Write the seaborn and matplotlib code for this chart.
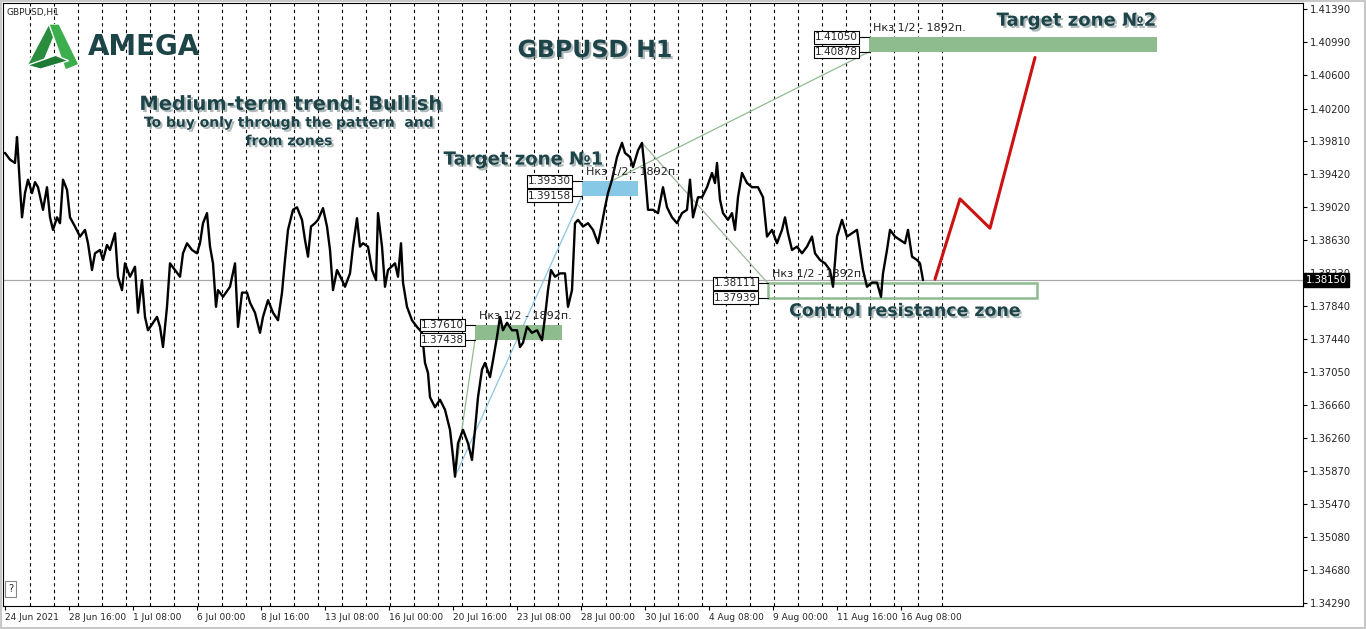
import numpy as np
import pandas as pd
import seaborn as sns
import matplotlib
matplotlib.use("Agg")
import matplotlib.pyplot as plt
import matplotlib.patheffects as pe
from matplotlib.patches import Polygon, Rectangle
from matplotlib.transforms import blended_transform_factory

# H1 bar number (0 = 24 Jun 2021 00:00) and price
bars = [0, 5, 10, 12, 13, 15, 17, 20, 23, 27, 30, 33, 38, 42, 45, 48, 52, 55, 58, 62, 65,
        70, 75, 80, 83, 87, 90, 95, 98, 102, 105, 110, 113, 117, 120, 125, 130, 133, 137,
        140, 143, 148, 152, 155, 158, 162, 165, 170, 175, 178, 182, 187, 192, 195, 198,
        202, 205, 208, 211, 213, 218, 225, 230, 233, 237, 242, 245, 250, 255, 258, 263,
        268, 273, 277, 280, 283, 288, 292, 297, 300, 303, 306, 310, 313, 318, 322, 325,
        328, 332, 337, 340, 345, 348, 352, 355, 358, 363, 367, 371, 373, 377, 380, 383,
        390, 393, 396, 398, 402, 407, 412, 415, 417, 420, 423, 425, 430, 435, 440, 445,
        448, 450, 453, 458, 463, 467, 470, 473, 477, 480, 485, 488, 492, 495, 498, 502,
        507, 512, 515, 518, 522, 527, 532, 537, 540, 543, 546, 550, 555, 560, 563, 567,
        570, 573, 578, 583, 588, 593, 597, 600, 603, 607, 612, 617, 620, 625, 628, 633,
        637, 640, 643, 648, 653, 658, 662, 667, 672, 677, 682, 685, 688, 693, 697, 702,
        707, 710, 712, 715, 718, 723, 727, 730, 733, 737, 742, 747, 753, 758, 762, 767,
        772, 777, 780, 783, 787, 792, 797, 802, 807, 810, 815, 820, 825, 828, 832, 837,
        842, 847, 852, 855, 858, 862, 867, 872, 876, 878, 882, 885, 890, 895, 900, 903,
        907, 912, 915, 918]
close = [1.3967, 1.3959, 1.3955, 1.3986, 1.3967, 1.3926, 1.3890, 1.3919, 1.3935, 1.3919,
         1.3932, 1.3926, 1.3899, 1.3926, 1.3890, 1.3875, 1.3890, 1.3883, 1.3935, 1.3923,
         1.3890, 1.3879, 1.3867, 1.3875, 1.3859, 1.3827, 1.3847, 1.3851, 1.3839, 1.3857,
         1.3851, 1.3871, 1.3819, 1.3803, 1.3835, 1.3819, 1.3831, 1.3776, 1.3815, 1.3771,
         1.3755, 1.3764, 1.3771, 1.3759, 1.3735, 1.3783, 1.3835, 1.3827, 1.3819, 1.3847,
         1.3859, 1.3851, 1.3847, 1.3859, 1.3883, 1.3895, 1.3855, 1.3835, 1.3783, 1.3803,
         1.3795, 1.3807, 1.3835, 1.3759, 1.3800, 1.3800, 1.3788, 1.3776, 1.3752, 1.3771,
         1.3791, 1.3776, 1.3767, 1.3800, 1.3839, 1.3875, 1.3899, 1.3902, 1.3887, 1.3863,
         1.3843, 1.3879, 1.3883, 1.3887, 1.3901, 1.3879, 1.3851, 1.3803, 1.3827, 1.3815,
         1.3807, 1.3823, 1.3855, 1.3889, 1.3855, 1.3859, 1.3855, 1.3827, 1.3815, 1.3895,
         1.3855, 1.3807, 1.3827, 1.3835, 1.3819, 1.3859, 1.3812, 1.3783, 1.3767, 1.3759,
         1.3755, 1.3752, 1.3716, 1.3704, 1.3675, 1.3663, 1.3672, 1.3660, 1.3636, 1.3604,
         1.3580, 1.3620, 1.3636, 1.3620, 1.3600, 1.3636, 1.3675, 1.3708, 1.3716, 1.3699,
         1.3719, 1.3747, 1.3771, 1.3755, 1.3764, 1.3755, 1.3755, 1.3735, 1.3740, 1.3759,
         1.3752, 1.3755, 1.3743, 1.3771, 1.3803, 1.3827, 1.3819, 1.3823, 1.3823, 1.3783,
         1.3803, 1.3883, 1.3887, 1.3879, 1.3883, 1.3875, 1.3859, 1.3883, 1.3902, 1.3919,
         1.3935, 1.3962, 1.3979, 1.3967, 1.3962, 1.3950, 1.3970, 1.3979, 1.3943, 1.3899,
         1.3899, 1.3895, 1.3926, 1.3902, 1.3890, 1.3883, 1.3895, 1.3899, 1.3935, 1.3890,
         1.3914, 1.3914, 1.3926, 1.3943, 1.3931, 1.3955, 1.3911, 1.3895, 1.3887, 1.3895,
         1.3875, 1.3914, 1.3943, 1.3931, 1.3926, 1.3926, 1.3914, 1.3867, 1.3875, 1.3859,
         1.3875, 1.3890, 1.3871, 1.3851, 1.3855, 1.3847, 1.3855, 1.3867, 1.3847, 1.3839,
         1.3835, 1.3827, 1.3807, 1.3867, 1.3887, 1.3867, 1.3871, 1.3875, 1.3851, 1.3827,
         1.3807, 1.3812, 1.3812, 1.3795, 1.3823, 1.3851, 1.3875, 1.3867, 1.3863, 1.3859,
         1.3875, 1.3843, 1.3839, 1.3835, 1.3815]
last_price = 1.38150

# zones: (start bar, end bar, low, high, filled colour or None for outline)
zone_start = [470, 577, 864, 763]
zone_end = [557, 633, 1152, 1032]
zone_low = [1.37438, 1.39158, 1.40878, 1.37939]
zone_high = [1.37610, 1.39330, 1.41050, 1.38111]
zone_fill = ["#8fbc8f", "#87c8e6", "#8fbc8f", None]
zone_note = "Нкз 1/2 - 1892п."

# thin helper lines (bar, price) -> (bar, price)
fib_from_bar = [450, 450, 577, 637]
fib_from_px = [1.3580, 1.3580, 1.39158, 1.3979]
fib_to_bar = [577, 470, 864, 763]
fib_to_px = [1.39158, 1.37438, 1.40878, 1.38111]
fib_color = ["#8cc4e0", "#8fbc8f", "#8fbc8f", "#9fb59f"]

# red forecast path
fc_bars = [930, 955, 985, 1030]
fc_px = [1.3816, 1.3912, 1.3877, 1.4081]

xtick_labels = ["24 Jun 2021", "28 Jun 16:00", "1 Jul 08:00", "6 Jul 00:00", "8 Jul 16:00",
                "13 Jul 08:00", "16 Jul 00:00", "20 Jul 16:00", "23 Jul 08:00", "28 Jul 00:00",
                "30 Jul 16:00", "4 Aug 08:00", "9 Aug 00:00", "11 Aug 16:00", "16 Aug 08:00"]
ytick_vals = [1.41390, 1.40990, 1.40600, 1.40200, 1.39810, 1.39420, 1.39020, 1.38630,
              1.38230, 1.37840, 1.37440, 1.37050, 1.36660, 1.36260, 1.35870, 1.35470,
              1.35080, 1.34680, 1.34290]

sns.set_style("white")
plt.rcParams['font.family'] = ['DejaVu Sans']

fig = plt.figure(figsize=(13.66, 6.29), dpi=100)
ax = fig.add_axes([3 / 1366, 23 / 629, 1300 / 1366, 603 / 629])

# day separators
for b in range(25, 940, 24):
    ax.axvline(b, color="black", lw=0.8, ls=(0, (3, 3)), zorder=1)

ax.axhline(last_price, color="#a8a8a8", lw=0.9, zorder=1)

df = pd.DataFrame({"bar": bars, "close": close})
sns.lineplot(data=df, x="bar", y="close", color="black", linewidth=1.7, ax=ax, zorder=4)

for x0, y0, x1, y1, c in zip(fib_from_bar, fib_from_px, fib_to_bar, fib_to_px, fib_color):
    ax.plot([x0, x1], [y0, y1], color=c, lw=0.9, zorder=2)

for s, e, lo, hi, c in zip(zone_start, zone_end, zone_low, zone_high, zone_fill):
    if c is None:
        ax.add_patch(Rectangle((s, lo), e - s, hi - lo, fc="none", ec="#8fbc8f", lw=1.8, zorder=3))
    else:
        ax.add_patch(Rectangle((s, lo), e - s, hi - lo, fc=c, ec="none", zorder=3))
    for p in (hi, lo):
        ax.plot([s - 10, s], [p, p], color="black", lw=0.8, zorder=3)
        ax.text(s - 11, p, f"{p:.5f}", ha="right", va="center", fontsize=7.5, zorder=6,
                bbox=dict(boxstyle="square,pad=0.12", fc="white", ec="black", lw=0.8))
    ax.annotate(zone_note, (s, hi), xytext=(3, 3), textcoords="offset points",
                ha="left", va="bottom", fontsize=8, color="#222222", zorder=5)

ax.plot(fc_bars, fc_px, color="#cc1111", lw=2.2, zorder=5)

# captions
tc = "#1c4449"
shadow = [pe.withSimplePatchShadow(offset=(1.5, -1.5), shadow_rgbFace="#6f8080", alpha=0.55)]
ax.text(590, 1.4090, "GBPUSD H1", ha="center", va="center", fontsize=17, fontweight="bold",
        color=tc, path_effects=shadow)
ax.text(286, 1.4025, "Medium-term trend: Bullish", ha="center", va="center", fontsize=14,
        fontweight="bold", color=tc, path_effects=shadow)
ax.text(284, 1.4003, "To buy only through the pattern  and", ha="center", va="center",
        fontsize=10, fontweight="bold", color=tc, path_effects=shadow)
ax.text(284, 1.3981, "from zones", ha="center", va="center", fontsize=10,
        fontweight="bold", color=tc, path_effects=shadow)
ax.text(518, 1.3959, "Target zone №1", ha="center", va="center", fontsize=13,
        fontweight="bold", color=tc, path_effects=shadow)
ax.text(1071, 1.4125, "Target zone №2", ha="center", va="center", fontsize=13,
        fontweight="bold", color=tc, path_effects=shadow)
ax.text(900, 1.3778, "Control resistance zone", ha="center", va="center", fontsize=12.5,
        fontweight="bold", color=tc, path_effects=shadow)
ax.text(83, 1.4094, "AMEGA", ha="left", va="center", fontsize=20, fontweight="bold",
        color="#1d4447")
ax.text(0.003, 0.992, "GBPUSD,H1", transform=ax.transAxes, ha="left", va="top", fontsize=6.5)

# logo
lg = fig.add_axes([27 / 1366, 1 - 70 / 629, 52 / 1366, 46 / 629])
lg.set_xlim(0, 1)
lg.set_ylim(0, 1)
lg.axis("off")
lg.add_patch(Polygon([(0.0, 0.1), (0.42, 1.0), (0.62, 1.0), (0.26, 0.02)], fc="#2a8c3c"))
lg.add_patch(Polygon([(0.42, 1.0), (0.62, 1.0), (1.0, 0.12), (0.74, 0.0)], fc="#3dae4e"))
lg.add_patch(Polygon([(0.0, 0.1), (0.26, 0.02), (0.8, 0.2), (0.55, 0.32)], fc="#1f7a33"))

ax.set_xlim(-2, 1298)
ax.set_ylim(1.34254, 1.41462)
ax.set_xticks(range(0, 64 * len(xtick_labels), 64))
ax.set_xticklabels(xtick_labels, ha="left", fontsize=6.5)
ax.yaxis.tick_right()
ax.set_yticks(ytick_vals)
ax.set_yticklabels([f"{v:.5f}" for v in ytick_vals], fontsize=7.2)
ax.tick_params(axis="both", direction="out", length=3, width=0.8, color="black", pad=2, bottom=True, right=True)
ax.set_xlabel("")
ax.set_ylabel("")
for sp in ax.spines.values():
    sp.set_color("black")
    sp.set_linewidth(0.8)

trans = blended_transform_factory(ax.transAxes, ax.transData)
ax.text(1.002, last_price, "1.38150", transform=trans, ha="left", va="center", fontsize=7.2,
        color="white", bbox=dict(boxstyle="square,pad=0.2", fc="black", ec="black"), zorder=10)
ax.text(0.006, 0.02, "?", transform=ax.transAxes, ha="center", va="bottom", fontsize=7,
        bbox=dict(boxstyle="square,pad=0.3", fc="white", ec="#888888", lw=0.8))

fig.patches.append(Rectangle((0.001, 0.002), 0.998, 0.996, transform=fig.transFigure,
                             fill=False, ec="#c8c8c8", lw=1.5))
fig.savefig("out.png", dpi=100)
